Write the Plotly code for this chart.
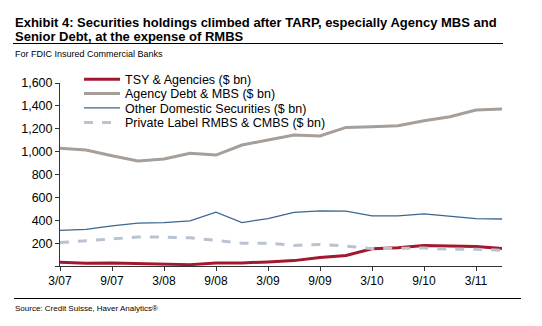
import plotly.graph_objects as go

quarters = ["3/07", "6/07", "9/07", "12/07", "3/08", "6/08", "9/08", "12/08",
            "3/09", "6/09", "9/09", "12/09", "3/10", "6/10", "9/10", "12/10",
            "3/11", "6/11"]
tsy_agencies = [33, 24, 27, 21, 12, 12, 27, 27, 36, 47, 74, 92, 150, 159, 180, 175, 171, 153]
agency_debt_mbs = [1030, 1014, 964, 918, 935, 985, 970, 1058, 1101, 1145, 1137, 1212,
                   1218, 1226, 1270, 1305, 1364, 1372]
other_domestic = [312, 321, 350, 374, 380, 394, 470, 380, 415, 468, 482, 479,
                  438, 438, 455, 435, 415, 411]
private_label = [205, 222, 235, 253, 253, 247, 224, 200, 200, 180, 189, 174,
                 152, 155, 157, 146, 146, 138]
series_names = ["TSY & Agencies ($ bn)", "Agency Debt & MBS ($ bn)",
                "Other Domestic Securities ($ bn)", "Private Label RMBS & CMBS ($ bn)"]
x_tick_labels = ["3/07", "9/07", "3/08", "9/08", "3/09", "9/09", "3/10", "9/10", "3/11"]
y_tick_values = [0, 200, 400, 600, 800, 1000, 1200, 1400, 1600]

W, H = 542, 326
L, R, T, B = 60, 502, 83, 266


def px(x):
    return (x - L) / (R - L)


def py(y):
    return (B - y) / (B - T)


styles = [
    dict(color="#A3172F", width=3),
    dict(color="#A69E98", width=3),
    dict(color="#3C6690", width=1.3),
    dict(color="#B9C3D2", width=3, dash="dash"),
]
series_values = [tsy_agencies, agency_debt_mbs, other_domestic, private_label]
legend_ids = ["legend", "legend2", "legend3", "legend4"]
legend_rows = [80.5, 94.8, 109.2, 123.8]

font_family = "Liberation Sans, Arial, sans-serif"
fig = go.Figure()
for name, vals, st, lid in zip(series_names, series_values, styles, legend_ids):
    fig.add_trace(go.Scatter(x=quarters, y=vals, mode="lines", name=name,
                             line=st, legend=lid))

layout_legends = {}
for lid, row in zip(legend_ids, legend_rows):
    layout_legends[lid] = dict(x=px(79), y=py(row - 16), xanchor="left", yanchor="top",
                               bgcolor="rgba(0,0,0,0)", font=dict(size=12.5),
                               itemwidth=36)

fig.update_layout(
    width=W, height=H,
    margin=dict(l=L, r=W - R, t=T, b=H - B),
    paper_bgcolor="white", plot_bgcolor="white",
    font=dict(family=font_family, size=12, color="#000000"),
    showlegend=True,
    xaxis=dict(type="category", range=[0, len(quarters) - 1],
               tickmode="array", tickvals=x_tick_labels, ticktext=x_tick_labels,
               showgrid=False, zeroline=False, showline=True,
               linecolor="#333333", linewidth=1, ticks="outside", ticklen=4,
               tickcolor="#333333", tickfont=dict(size=12)),
    yaxis=dict(range=[0, 1600], tickmode="array", tickvals=y_tick_values,
               ticktext=["" if v == 0 else f"{v:,}" for v in y_tick_values],
               showgrid=False, zeroline=False, showline=True,
               linecolor="#333333", linewidth=1, ticks="outside", ticklen=4,
               tickcolor="#333333", tickfont=dict(size=12.5)),
    **layout_legends,
)

annotations = [
    dict(text="<b>Exhibit 4: Securities holdings climbed after TARP, especially Agency MBS and</b>",
         x=13, y=22, size=13),
    dict(text="<b>Senior Debt, at the expense of RMBS</b>",
         x=13, y=37, size=13),
    dict(text="For FDIC Insured Commercial Banks",
         x=13, y=54, size=9),
    dict(text="Source: Credit Suisse, Haver Analytics®",
         x=13, y=308, size=8),
]
for a in annotations:
    fig.add_annotation(xref="paper", yref="paper", xanchor="left", yanchor="middle",
                       showarrow=False, x=px(a["x"]), y=py(a["y"]), text=a["text"],
                       font=dict(family=font_family, color="#000000", size=a["size"]))

fig.add_shape(type="line", xref="paper", yref="paper",
              x0=px(13), x1=px(503), y0=py(43.5), y1=py(43.5),
              line=dict(color="#000000", width=1.2))
fig.add_shape(type="line", xref="paper", yref="paper",
              x0=px(14), x1=px(521), y0=py(298.5), y1=py(298.5),
              line=dict(color="#000000", width=1.2))

fig.write_html("out.html")
